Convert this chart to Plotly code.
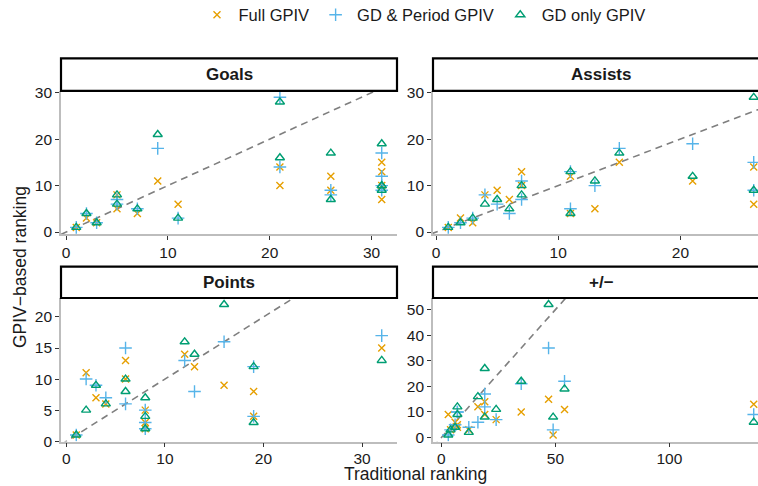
import plotly.graph_objects as go

# ---------------- data ----------------
series_names = ["Full GPIV", "GD & Period GPIV", "GD only GPIV"]
panel_titles = ["Goals", "Assists", "Points", "+/\u2212"]

goals_trad = [1, 2, 3, 5, 5, 7, 9, 11, 21, 21, 26, 26, 31, 31, 31, 31]
goals_full = [1, 3, 2, 8, 5, 4, 11, 6, 10, 14, 12, 9, 15, 13, 7, 10]
goals_gdp  = [1, 4, 2, 7, 6, 5, 18, 3, 29, 14, 9, 8, 17, 12, 10, 9]
goals_gd   = [1, 4, 2, 8, 6, 5, 21, 3, 28, 16, 17, 7, 19, 10, 9, 10]

assists_trad = [1, 2, 3, 4, 5, 6, 7, 7, 11, 11, 13, 15, 21, 26, 26]
assists_full = [1, 3, 2, 8, 9, 7, 13, 10, 12, 4, 5, 15, 11, 14, 6]
assists_gdp  = [1, 2, 3, 8, 6, 4, 11, 7, 13, 5, 10, 18, 19, 15, 9]
assists_gd   = [1, 2, 3, 6, 7, 5, 10, 8, 13, 4, 11, 17, 12, 29, 9]

points_trad = [1, 2, 3, 4, 6, 6, 8, 8, 8, 12, 13, 16, 19, 19, 32]
points_full = [1, 11, 7, 6, 13, 10, 5, 3, 2, 14, 12, 9, 8, 4, 15]
points_gdp  = [1, 10, 9, 7, 15, 6, 5, 3, 2, 13, 8, 16, 12, 4, 17]
points_gd   = [1, 5, 9, 6, 10, 8, 7, 4, 2, 16, 14, 22, 12, 3, 13]

pm_trad = [3, 4, 6, 7, 7, 12, 16, 19, 19, 24, 35, 47, 49, 54, 137]
pm_full = [9, 3, 6, 4, 5, 3, 12, 14, 9, 7, 10, 15, 1, 11, 13]
pm_gdp  = [1, 3, 5, 10, 10, 4, 6, 17, 12, 7, 21, 35, 3, 22, 9]
pm_gd   = [1, 3, 4, 12, 9, 2, 16, 27, 8, 11, 22, 52, 8, 19, 6]

panels = [
    (goals_trad, [goals_full, goals_gdp, goals_gd]),
    (assists_trad, [assists_full, assists_gdp, assists_gd]),
    (points_trad, [points_full, points_gdp, points_gd]),
    (pm_trad, [pm_full, pm_gdp, pm_gd]),
]

colors = ["#E69F00", "#56B4E9", "#009E73"]
symbols = ["x-thin-open", "cross-thin-open", "triangle-up-open"]
msizes = [7, 9, 8]

# ---------------- layout geometry (pixels in the 758x486 canvas) ----------------
W, H = 758, 486
col_px = [(61, 397), (433, 769)]          # right column continues past the canvas edge
row_px = [(90.8, 233.9), (298.0, 441.5)]  # top/bottom pixel of panel
strip_px = [(58.3, 90.8), (266.7, 298.0)]

FONT = "Liberation Sans, Arial, sans-serif"
TXT = "#1a1a1a"

fig = go.Figure()
layout_axes = {}
shapes = []
annotations = []


def expand(vals):
    lo, hi = min(vals), max(vals)
    pad = 0.05 * (hi - lo)
    return [lo - pad, hi + pad]


for i, (trad, ys) in enumerate(panels):
    r, c = divmod(i, 2)
    ax = "" if i == 0 else str(i + 1)
    xr = expand(trad)
    yr = expand([v for s in ys for v in s])
    x0p, x1p = col_px[c]
    vis_x1 = min(x1p, W)
    # visible portion of the x range (canvas crops the right column)
    xr_vis = [xr[0], xr[0] + (xr[1] - xr[0]) * (vis_x1 - x0p) / (x1p - x0p)]
    dom_x = [x0p / W, vis_x1 / W]
    dom_y = [(H - row_px[r][1]) / H, (H - row_px[r][0]) / H]

    common = dict(showgrid=False, zeroline=False, showline=True, linecolor="#BDBDBD",
                  linewidth=1.6, ticks="outside", ticklen=4, tickwidth=1.1,
                  tickcolor="#333333", tickfont=dict(family=FONT, size=15.5, color=TXT))
    layout_axes["xaxis" + ax] = dict(domain=dom_x, range=xr_vis, anchor="y" + ax,
                                     dtick=50 if i == 3 else 10,
                                     ticklabelstandoff=-2 if r == 1 else 0, **common)
    layout_axes["yaxis" + ax] = dict(domain=dom_y, range=yr, anchor="x" + ax,
                                     dtick=5 if i == 2 else 10, **common)

    # y = x reference line through the panel
    lo = min(xr[0], yr[0])
    hi = max(xr[1], yr[1])
    fig.add_trace(go.Scatter(x=[lo, hi], y=[lo, hi], mode="lines", xaxis="x" + ax, yaxis="y" + ax,
                             line=dict(color="#7F7F7F", width=1.6, dash="7px,5px"),
                             showlegend=False, hoverinfo="skip"))

    for k, s in enumerate(ys):
        fig.add_trace(go.Scatter(
            x=trad, y=s, mode="markers", name=series_names[k],
            xaxis="x" + ax, yaxis="y" + ax, legendgroup=series_names[k],
            showlegend=(i == 0),
            marker=dict(symbol=symbols[k], size=msizes[k], color=colors[k],
                        line=dict(color=colors[k], width=1.4)),
        ))

    # strip
    sy0 = (H - strip_px[r][1]) / H
    sy1 = (H - strip_px[r][0]) / H
    shapes.append(dict(type="rect", xref="paper", yref="paper",
                       x0=x0p / W, x1=x1p / W, y0=sy0, y1=sy1,
                       line=dict(color="black", width=2.2), fillcolor="white", layer="above"))
    annotations.append(dict(text="<b>%s</b>" % panel_titles[i], xref="paper", yref="paper",
                            x=(x0p + x1p) / 2 / W, y=(sy0 + sy1) / 2, showarrow=False,
                            xanchor="center", yanchor="middle",
                            font=dict(family=FONT, size=17, color=TXT)))

annotations.append(dict(text="Traditional ranking", xref="paper", yref="paper",
                        x=415 / W, y=0, showarrow=False, xanchor="center",
                        yanchor="bottom", font=dict(family=FONT, size=17.5, color=TXT)))
annotations.append(dict(text="GPIV\u2212based ranking", xref="paper", yref="paper",
                        x=20 / W, y=(H - 267) / H, showarrow=False, textangle=-90,
                        xanchor="center", yanchor="middle",
                        font=dict(family=FONT, size=17.5, color=TXT)))

fig.update_layout(
    width=W, height=H, margin=dict(l=0, r=0, t=0, b=0, autoexpand=False),
    paper_bgcolor="white", plot_bgcolor="white",
    showlegend=True,
    legend=dict(orientation="h", x=423 / W, xanchor="center", y=1 - 15 / H, yanchor="middle",
                font=dict(family=FONT, size=16.5, color=TXT), bgcolor="rgba(0,0,0,0)",
                itemwidth=33, tracegroupgap=0),
    shapes=shapes, annotations=annotations,
    **layout_axes,
)

fig.write_html(
    "out.html",
    config={"displayModeBar": False},
    post_script="document.body.style.margin='0';document.body.style.overflow='hidden';"
                "document.documentElement.style.overflow='hidden';",
)
